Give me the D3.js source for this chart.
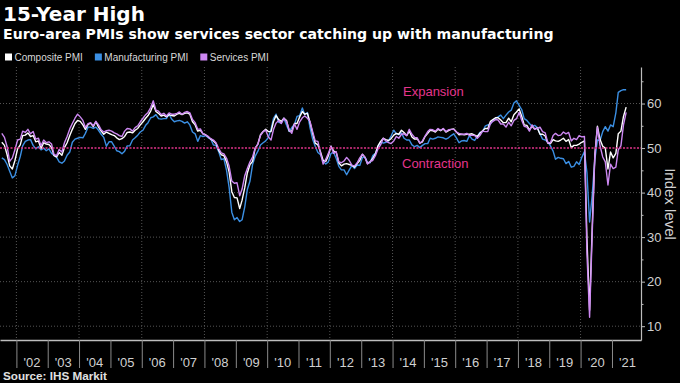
<!DOCTYPE html>
<html><head><meta charset="utf-8">
<script src="https://cdn.jsdelivr.net/npm/d3@7"></script>
<style>html,body{margin:0;padding:0;background:#000;} svg{display:block;}</style>
</head><body>
<script>
// Monthly data, July 2001 .. June 2021
const startYear = 2001, startMonth = 6; // July (0-based month)
const composite = [
51.3,50.6,48.5,46.0,45.3,47.2,
49.8,50.7,52.8,52.9,53.4,52.6,52.8,51.4,51.6,49.9,51.2,50.9,
50.8,50.1,48.3,48.0,49.0,48.4,50.1,51.2,52.8,54.2,55.5,56.2,
56.0,55.2,54.2,55.3,55.6,54.8,55.9,54.7,53.8,53.1,53.6,53.3,
53.0,52.8,52.3,51.9,52.1,52.6,53.5,53.6,53.4,54.0,54.4,55.2,
55.9,56.7,57.3,58.3,59.8,58.2,57.8,57.2,57.4,57.0,57.5,57.3,
57.2,57.6,57.8,57.5,57.8,57.9,57.6,55.9,55.2,53.8,54.0,53.2,
53.0,52.5,52.0,51.6,51.0,49.5,48.5,48.3,46.9,44.6,40.2,38.9,
38.8,36.4,38.3,41.1,44.4,46.3,47.0,50.0,50.9,53.0,53.7,54.2,
53.7,53.7,55.9,57.3,56.4,56.0,56.7,56.2,53.8,53.8,55.5,55.5,
57.0,58.2,57.6,57.8,55.8,53.3,51.1,50.7,49.1,47.2,47.0,48.3,
50.4,49.3,49.1,46.7,46.0,46.4,46.5,46.3,46.1,45.7,46.5,47.2,
48.6,47.9,46.5,46.9,47.7,48.7,50.5,51.5,52.2,51.9,51.7,52.1,
52.9,53.3,53.1,54.0,53.5,52.8,53.8,52.5,52.0,52.1,51.1,51.4,
52.6,53.3,54.0,53.9,53.6,54.2,53.9,54.3,53.6,53.9,54.2,54.3,
53.6,53.0,53.1,53.0,53.1,53.1,53.2,52.9,52.6,53.3,53.9,54.4,
54.4,56.0,56.4,56.8,56.8,56.3,55.7,55.7,56.7,55.9,57.5,58.1,
58.8,57.1,55.2,55.1,54.1,54.9,54.3,54.5,53.1,53.1,52.7,51.1,
51.0,51.9,51.6,51.5,51.8,52.2,51.5,51.9,50.1,50.6,50.6,50.9,
51.3,51.6,29.7,13.6,31.9,48.5,54.9,51.9,50.4,50.0,45.3,49.1,
47.8,48.8,53.2,53.8,57.1,59.2
];
const manufacturing = [
47.8,47.4,46.3,44.8,43.3,43.8,
46.1,48.1,50.5,51.5,51.8,51.9,50.6,49.8,50.3,49.6,50.0,49.4,
49.8,48.8,48.4,47.9,46.9,46.6,47.1,48.4,49.1,51.3,52.0,52.2,
52.4,52.3,53.3,54.7,54.7,54.4,54.7,54.0,53.1,52.4,50.4,51.4,
51.4,50.4,49.4,49.2,48.7,49.3,50.5,50.5,51.8,52.3,52.9,53.6,
54.0,55.1,55.7,56.8,57.0,57.5,56.6,56.5,56.6,56.6,57.6,56.5,
55.9,56.1,56.2,56.0,55.6,55.9,55.2,53.6,53.2,51.5,52.8,52.6,
52.8,52.3,52.0,50.7,50.6,49.2,47.4,47.6,45.0,41.1,35.6,33.9,
34.4,33.5,33.9,36.8,40.7,42.6,46.3,48.2,49.3,50.7,51.2,51.6,
52.4,54.2,56.6,57.6,55.8,55.6,56.7,55.1,53.7,54.6,55.3,57.1,
57.3,59.0,57.5,58.0,54.6,52.0,50.4,49.0,48.5,47.1,46.4,46.9,
48.8,49.0,47.7,45.9,45.1,45.1,44.0,45.1,46.1,45.4,46.2,46.1,
47.9,47.9,46.8,46.7,48.3,48.8,50.3,51.4,51.1,51.3,51.6,52.7,
54.0,53.2,53.0,53.4,52.2,51.8,51.8,50.7,50.3,50.6,50.1,50.6,
51.0,51.0,52.2,52.0,52.2,52.5,52.4,52.3,52.0,52.3,52.8,53.2,
52.3,51.2,51.6,51.7,51.5,52.8,52.0,51.7,52.6,53.5,53.7,54.9,
55.2,55.4,56.2,56.7,57.0,57.4,56.6,57.4,58.1,58.5,60.1,60.6,
59.6,58.6,56.6,56.2,55.5,54.9,55.1,54.6,53.2,52.0,51.8,51.4,
50.5,49.3,47.5,47.9,47.7,47.6,46.5,47.0,45.7,45.9,46.9,46.3,
47.9,49.2,44.5,33.4,39.4,47.4,51.8,51.7,53.7,54.8,53.8,55.2,
54.8,57.9,62.5,62.9,63.1,63.1
];
const services = [
53.3,52.4,50.3,47.0,47.8,49.6,
51.8,52.0,53.8,53.5,54.2,53.2,53.7,52.0,52.2,50.5,51.8,51.2,
51.4,50.9,48.6,48.3,49.7,49.1,51.2,52.6,54.3,55.5,56.7,57.6,
57.0,56.2,54.6,55.5,55.7,55.0,56.0,55.2,54.1,53.6,53.9,54.0,
53.8,53.4,53.2,52.8,52.6,53.8,54.4,54.3,53.8,54.6,55.0,55.9,
56.7,57.5,58.0,59.1,60.6,58.5,58.3,57.5,57.8,57.2,57.9,57.6,
57.6,57.8,58.1,57.6,58.0,58.2,57.9,56.4,55.7,54.2,54.3,53.2,
52.9,52.6,52.1,51.8,51.2,49.9,48.9,48.7,47.7,45.9,42.6,42.1,
42.2,39.3,40.8,43.8,45.4,46.9,48.0,50.0,50.9,52.8,53.7,54.0,
52.5,51.8,54.1,55.6,56.2,55.5,56.7,55.9,54.1,53.3,55.4,54.2,
55.9,56.8,57.2,56.7,56.0,53.7,51.6,51.5,48.8,46.4,47.5,48.8,
50.4,48.8,49.2,46.9,46.7,47.1,47.9,47.2,46.1,46.0,46.7,47.8,
48.6,47.9,46.4,47.0,47.2,48.3,49.8,50.7,52.2,51.6,51.2,51.0,
51.6,52.6,52.2,53.1,53.2,52.8,54.2,53.1,52.4,52.3,51.1,51.6,
52.7,53.7,54.2,54.1,53.8,54.4,54.0,54.4,53.7,54.1,54.2,54.2,
53.6,53.3,53.1,53.1,53.3,52.8,52.9,52.8,52.2,52.8,53.8,53.7,
53.7,55.5,56.0,56.4,56.3,55.4,55.4,54.7,55.8,55.0,56.2,56.6,
58.0,56.2,54.9,54.7,53.8,55.2,54.2,54.4,54.7,53.7,53.4,51.2,
51.2,52.8,53.3,52.8,52.9,53.6,53.2,53.5,51.6,52.2,51.9,52.8,
52.5,52.6,26.4,12.0,30.5,48.3,54.7,50.5,48.0,46.9,41.7,46.4,
45.4,45.7,49.6,50.5,55.2,58.0
];
const seriesNames = ["Composite PMI", "Manufacturing PMI", "Services PMI"];
const seriesColors = ["#ffffff", "#3b8fe3", "#cd88f2"];
const drawOrder = [1, 0, 2];
const yTicks = [10, 20, 30, 40, 50, 60];
const yMinorTicks = [15, 25, 35, 45, 55, 65];
const years = [2002,2003,2004,2005,2006,2007,2008,2009,2010,2011,2012,2013,2014,2015,2016,2017,2018,2019,2020,2021];
const gridYears = [2002,2004,2006,2008,2010,2012,2014,2016,2018,2020];
const yearLabels = ["'02","'03","'04","'05","'06","'07","'08","'09","'10","'11","'12","'13","'14","'15","'16","'17","'18","'19","'20","'21"];
const title = "15-Year High";
const subtitle = "Euro-area PMIs show services sector catching up with manufacturing";
const source = "Source: IHS Markit";
const yTitle = "Index level";
const zoneLabels = ["Expansion", "Contraction"];

const W = 680, H = 383;
const seriesData = [composite, manufacturing, services];
const months = composite.map((_, i) => new Date(startYear, startMonth + i, 15));

const svg = d3.select("body").append("svg").attr("width", W).attr("height", H)
  .style("background", "#000");

const x = d3.scaleTime().domain([new Date(2001, 5, 24), new Date(2021, 11, 5)]).range([0, 641]);
const y = d3.scaleLinear().domain([6.9, 68.2]).range([340, 67]);

// grid
const grid = svg.append("g");
grid.selectAll("line.v").data(gridYears).join("line")
  .attr("x1", d => x(new Date(d, 0, 1))).attr("x2", d => x(new Date(d, 0, 1)))
  .attr("y1", 67).attr("y2", 340)
  .attr("stroke", "#555").attr("stroke-width", 1).attr("stroke-dasharray", "1,2");
grid.selectAll("line.h").data(yTicks.filter(v => v !== 50)).join("line")
  .attr("x1", 0).attr("x2", 641)
  .attr("y1", d => y(d)).attr("y2", d => y(d))
  .attr("stroke", "#555").attr("stroke-width", 1).attr("stroke-dasharray", "1,2");

// zone labels
const zoneFont = "'Liberation Sans', Arial, sans-serif";
svg.append("text").attr("x", 403).attr("y", 96).text(zoneLabels[0])
  .attr("fill", "#e5358d").attr("font-family", zoneFont).attr("font-size", 13);
svg.append("text").attr("x", 402).attr("y", 168).text(zoneLabels[1])
  .attr("fill", "#e5358d").attr("font-family", zoneFont).attr("font-size", 13);

// lines
const line = d3.line().x((d, i) => x(months[i])).y(d => y(d));
const lg = svg.append("g");
drawOrder.forEach(k => {
  lg.append("path").datum(seriesData[k]).attr("d", line)
    .attr("fill", "none").attr("stroke", seriesColors[k])
    .attr("stroke-width", 1.4).attr("stroke-linejoin", "round");
});

// 50 reference line
svg.append("line").attr("x1", 0).attr("x2", 641).attr("y1", y(50)).attr("y2", y(50))
  .attr("stroke", "#e0338a").attr("stroke-width", 1.6).attr("stroke-dasharray", "2,1.5");

// y axis (right)
const axisColor = "#bdbdbd";
const tickFont = "'Liberation Sans', Arial, sans-serif";
const yAxis = svg.append("g").attr("transform", "translate(641,0)")
  .call(d3.axisRight(y).tickValues(yTicks).tickSize(4).tickSizeOuter(0).tickPadding(2).tickFormat(d3.format("d")));
const yMinor = svg.append("g").attr("transform", "translate(641,0)")
  .call(d3.axisRight(y).tickValues(yMinorTicks).tickSize(2.5).tickSizeOuter(0).tickFormat(""));
[yAxis, yMinor].forEach(g => {
  g.select(".domain").attr("stroke", axisColor).attr("stroke-width", 1.2);
  g.selectAll(".tick line").attr("stroke", axisColor);
  g.selectAll("text").attr("fill", "#d0d0d0").attr("font-family", tickFont).attr("font-size", 13);
});
yMinor.select(".domain").remove();

// x axis
const xAxis = svg.append("g").attr("transform", "translate(0,340)")
  .call(d3.axisBottom(x).tickValues(years.map(yy => new Date(yy, 0, 1))).tickSize(28).tickSizeOuter(0).tickFormat(""));
xAxis.select(".domain").attr("stroke", axisColor).attr("stroke-width", 1.5);
xAxis.selectAll(".tick line").attr("stroke", "#8a8a8a");
svg.append("g").selectAll("text").data(years).join("text")
  .attr("x", d => x(new Date(d, 6, 1))).attr("y", 366.5)
  .attr("text-anchor", "middle").text((d, i) => yearLabels[i])
  .attr("fill", "#d0d0d0").attr("font-family", tickFont).attr("font-size", 13);

// y title
svg.append("text").attr("transform", "translate(665,204) rotate(90)")
  .attr("text-anchor", "middle").text(yTitle)
  .attr("fill", "#d0d0d0").attr("font-family", tickFont).attr("font-size", 15);

// titles
svg.append("text").attr("x", 3).attr("y", 21).text(title)
  .attr("fill", "#fff").attr("font-family", "'DejaVu Sans', sans-serif").attr("font-weight", "bold").attr("font-size", 20);
svg.append("text").attr("x", 3).attr("y", 38.5).text(subtitle)
  .attr("fill", "#fff").attr("font-family", "'DejaVu Sans', sans-serif").attr("font-weight", "bold").attr("font-size", 14.1);

// legend
const leg = svg.append("g");
let lx = 5;
seriesNames.forEach((name, k) => {
  leg.append("rect").attr("x", lx).attr("y", 53.5).attr("width", 7).attr("height", 7).attr("fill", seriesColors[k]);
  const t = leg.append("text").attr("x", lx + 9.5).attr("y", 60.5).text(name)
    .attr("fill", "#d8d8d8").attr("font-family", tickFont).attr("font-size", 10);
  lx = lx + 9.5 + t.node().getComputedTextLength() + 12;
});

// source
svg.append("text").attr("x", 3).attr("y", 380).text(source)
  .attr("fill", "#e0e0e0").attr("font-family", "'Liberation Sans', Arial, sans-serif").attr("font-weight", "bold").attr("font-size", 11.7);
</script>
</body></html>
